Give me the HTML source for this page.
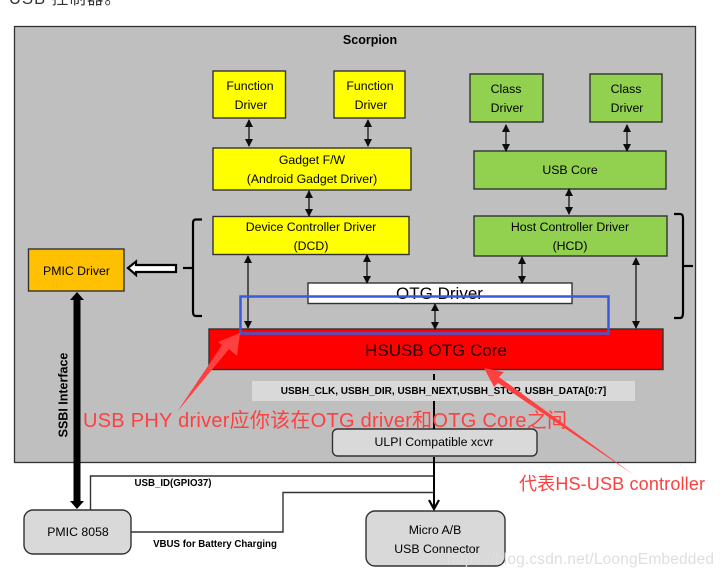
<!DOCTYPE html>
<html><head><meta charset="utf-8"><style>
html,body{margin:0;padding:0;background:#fff}
svg{display:block}
text{font-family:"Liberation Sans",sans-serif;fill:#000;text-anchor:middle}
.cn{font-family:"Liberation Sans","Noto Sans CJK SC",sans-serif;fill:#ff4040;text-anchor:start}
</style></head><body>
<svg width="723" height="575" viewBox="0 0 723 575" xmlns="http://www.w3.org/2000/svg">
<defs>
<marker id="a" viewBox="0 0 8 8" refX="7" refY="4" markerWidth="8" markerHeight="8" markerUnits="userSpaceOnUse" orient="auto-start-reverse"><path d="M0 0L8 4L0 8z" fill="#111"/></marker>
<filter id="bl" x="-5%" y="-5%" width="110%" height="110%"><feGaussianBlur stdDeviation="0.38"/></filter>
</defs>
<text x="9" y="4" textLength="112" style="font-family:'Liberation Sans','Noto Sans CJK SC',sans-serif;font-size:16.500px;text-anchor:start;fill:#333">USB 控制器。</text>
<g filter="url(#bl)">
<rect x="14.500" y="26.500" width="681" height="436" fill="#bfbfbf" stroke="#333" stroke-width="1.300"/>
<text x="370" y="44" style="font-weight:bold;font-size:12.500px">Scorpion</text>

<g stroke="#333" stroke-width="1.400">
<rect x="213" y="71" width="72.500" height="47" fill="#ff0"/>
<rect x="334" y="71" width="71" height="47" fill="#ff0"/>
<rect x="213" y="148" width="198" height="42" fill="#ff0"/>
<rect x="213" y="216.500" width="196" height="38" fill="#ff0"/>
<rect x="470" y="74" width="73" height="48" fill="#92d050"/>
<rect x="590" y="74" width="72" height="48" fill="#92d050"/>
<rect x="474" y="151" width="192" height="38" fill="#92d050"/>
<rect x="474" y="216" width="193" height="40" fill="#92d050"/>
<rect x="308" y="283" width="264" height="20.500" fill="#fff"/>
<rect x="209" y="329" width="454" height="40.500" fill="#f00"/>
<rect x="28.500" y="249" width="95.500" height="42" fill="#ffc000"/>
<rect x="332.500" y="429" width="204.500" height="27" rx="5" fill="#d9d9d9"/>
<rect x="24" y="510" width="107" height="44" rx="9" fill="#d9d9d9"/>
<rect x="366" y="511" width="139" height="55" rx="9" fill="#d9d9d9"/>
</g>
<rect x="252" y="381" width="383" height="20" fill="#d9d9d9"/>

<g style="font-size:12.300px">
<text x="250" y="90">Function</text><text x="251" y="109">Driver</text>
<text x="370" y="90">Function</text><text x="371" y="109">Driver</text>
<text x="312" y="164">Gadget F/W</text><text x="312" y="183">(Android Gadget Driver)</text>
<text x="311" y="231">Device Controller Driver</text><text x="311" y="250">(DCD)</text>
<text x="506" y="93">Class</text><text x="507" y="112">Driver</text>
<text x="626" y="93">Class</text><text x="627" y="112">Driver</text>
<text x="570" y="174">USB Core</text>
<text x="570" y="231">Host Controller Driver</text><text x="570" y="250">(HCD)</text>
<text x="76.500" y="275">PMIC Driver</text>
<text x="434" y="446">ULPI Compatible xcvr</text>
<text x="78" y="536">PMIC 8058</text>
<text x="435" y="534">Micro A/B</text><text x="437" y="553">USB Connector</text>
</g>
<text x="439.500" y="299" style="font-size:17px">OTG Driver</text>
<text x="436" y="356" style="font-size:17px;fill:#200">HSUSB OTG Core</text>
<text x="443.500" y="394" style="font-size:10px;font-weight:bold">USBH_CLK, USBH_DIR, USBH_NEXT,USBH_STOP, USBH_DATA[0:7]</text>
<text x="173" y="486" style="font-size:9.700px;font-weight:bold">USB_ID(GPIO37)</text>
<text x="215" y="547" style="font-size:9.700px;font-weight:bold">VBUS for Battery Charging</text>
<text transform="translate(67.500,395) rotate(-90)" x="0" y="0" style="font-size:12.500px;font-weight:bold">SSBI Interface</text>

<g stroke="#222" stroke-width="1.400" fill="none">
<line x1="249" y1="120" x2="249" y2="146" marker-start="url(#a)" marker-end="url(#a)"/>
<line x1="368" y1="120" x2="368" y2="146" marker-start="url(#a)" marker-end="url(#a)"/>
<line x1="309" y1="191" x2="309" y2="216" marker-start="url(#a)" marker-end="url(#a)"/>
<line x1="506" y1="125" x2="506" y2="151" marker-start="url(#a)" marker-end="url(#a)"/>
<line x1="627" y1="125" x2="627" y2="151" marker-start="url(#a)" marker-end="url(#a)"/>
<line x1="569" y1="189" x2="569" y2="214" marker-start="url(#a)" marker-end="url(#a)"/>
<line x1="248" y1="256" x2="248" y2="328" marker-start="url(#a)" marker-end="url(#a)"/>
<line x1="367" y1="255" x2="367" y2="283" marker-start="url(#a)" marker-end="url(#a)"/>
<line x1="522" y1="257" x2="522" y2="283" marker-start="url(#a)" marker-end="url(#a)"/>
<line x1="636" y1="258" x2="636" y2="328" marker-start="url(#a)" marker-end="url(#a)"/>
<line x1="435" y1="304" x2="435" y2="329" marker-start="url(#a)" marker-end="url(#a)"/>
</g>

<!-- braces -->
<g stroke="#000" stroke-width="2.200" fill="none">
<path d="M202 219.500H196Q193 219.500 193 223V312Q193 316 196 316H202"/>
<path d="M183 268H193"/>
<path d="M674 214H680Q683 214 683 218V313Q683 318 680 318H674"/>
<path d="M683 266H693"/>
</g>
<!-- hollow arrow -->
<path d="M128 268L136 261.500V265H176V272H136V275z" fill="#fff" stroke="#000" stroke-width="2.200"/>
<!-- SSBI -->
<line x1="77" y1="298" x2="77" y2="503" stroke="#000" stroke-width="7"/>
<path d="M77 292L84 300H70zM77 509L70 501H84z" fill="#000"/>
<!-- lines -->
<g stroke="#333" stroke-width="1.400" fill="none">
<path d="M90.500 510V476H434"/>
<path d="M131 532H283V492.500H434"/>
</g>
<path d="M434 374V380M434 401V429" stroke="#000" stroke-width="2" fill="none"/>
<path d="M434 457V507" stroke="#000" stroke-width="2" fill="none"/>
<path d="M429 500L434 509L439 500" stroke="#000" stroke-width="2.200" fill="none"/>
</g>

<!-- annotations -->
<rect x="240.500" y="296.500" width="368" height="37" fill="none" stroke="#3a5bd9" stroke-width="2.500"/>
<path d="M240 333L237 356L229 349L177 412L222 345L218 342z" fill="#ff4040"/>
<path d="M484 368L504 372L499 377L634 475L498 383L494 387z" fill="#ff4040"/>
<text class="cn" x="83" y="427" textLength="484" style="font-size:20px">USB PHY driver应你该在OTG driver和OTG Core之间</text>
<text class="cn" x="519" y="490" textLength="186" style="font-size:18px">代表HS-USB controller</text>
<text x="447" y="564" textLength="267" style="font-size:15.500px;fill:#dedede;text-anchor:start">https://blog.csdn.net/LoongEmbedded</text>
</svg>
</body></html>
